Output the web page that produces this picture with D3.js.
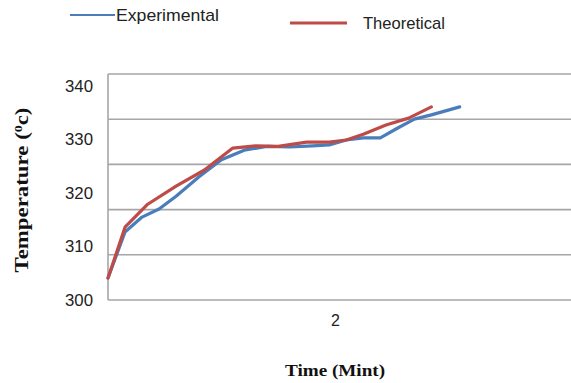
<!DOCTYPE html>
<html>
<head>
<meta charset="utf-8">
<script src="https://cdn.jsdelivr.net/npm/d3@7"></script>
<style>
  body { margin: 0; background: #fff; }
  svg { display: block; }
  .tick text { font-family: 'Liberation Sans', Arial, sans-serif; fill: #222; }
</style>
</head>
<body>
<div class="graphic"></div>
<script>
// values (minutes, degrees)
const seriesNames = ['Experimental', 'Theoretical'];
const expTime = [0, 0.15, 0.3, 0.45, 0.6, 0.8, 1.0, 1.2, 1.4, 1.6, 1.8, 1.95, 2.1, 2.25, 2.4, 2.55, 2.7, 2.85, 3.1];
const expTemp = [304.1, 312.7, 315.5, 317.0, 319.4, 323.0, 326.2, 328.0, 328.7, 328.6, 328.8, 329.0, 329.9, 330.3, 330.3, 332.1, 333.8, 334.6, 336.1];
const theoTime = [0, 0.15, 0.35, 0.6, 0.85, 1.1, 1.3, 1.5, 1.75, 1.95, 2.1, 2.25, 2.45, 2.65, 2.85];
const theoTemp = [304.1, 313.6, 317.9, 321.3, 324.3, 328.4, 328.8, 328.7, 329.5, 329.5, 329.9, 331.0, 332.7, 334.0, 336.1];
const yTicks = [300, 310, 320, 330, 340];
const xTicks = [2];
const gridLevels = [0, 1, 2, 3, 4, 5];

const width = 571, height = 383;
const plotLeft = 108, plotTop = 74, plotBottom = 300;

const svg = d3.select('.graphic')
  .append('svg')
  .attr('width', width)
  .attr('height', height);

const x = d3.scaleLinear().domain([0, 4.16]).range([plotLeft, 580]);
const y = d3.scaleLinear().domain([300, 340]).range([plotBottom, 86]);
// gridlines in the picture don't sit on the labels, so they get their own scale
const grid = d3.scaleLinear().domain([0, 5]).range([plotBottom, plotTop]);

svg.selectAll('line.grid')
  .data(gridLevels)
  .enter().append('line')
  .attr('class', 'grid')
  .attr('x1', plotLeft).attr('x2', width)
  .attr('y1', d => grid(d)).attr('y2', d => grid(d))
  .style('stroke', '#a6a6a6')
  .style('stroke-width', 1.6);

svg.append('line')
  .attr('x1', plotLeft).attr('x2', plotLeft)
  .attr('y1', plotTop).attr('y2', plotBottom)
  .style('stroke', '#a6a6a6')
  .style('stroke-width', 1.6);

const yAxis = svg.append('g')
  .attr('transform', 'translate(' + plotLeft + ',0)')
  .call(d3.axisLeft(y).tickValues(yTicks).tickSize(0).tickPadding(15));
yAxis.select('.domain').remove();
yAxis.selectAll('text')
  .style('font-size', '17px')
  .attr('textLength', 28)
  .attr('lengthAdjust', 'spacingAndGlyphs');

const xAxis = svg.append('g')
  .attr('transform', 'translate(0,' + plotBottom + ')')
  .call(d3.axisBottom(x).tickValues(xTicks).tickFormat(d3.format('d')).tickSize(0).tickPadding(15));
xAxis.select('.domain').remove();
xAxis.selectAll('text').style('font-size', '16px');

const line = d3.line()
  .x(d => x(d[0]))
  .y(d => y(d[1]));

const series = [
  { name: seriesNames[0], color: '#4a7ebb', pts: expTime.map((t, i) => [t, expTemp[i]]) },
  { name: seriesNames[1], color: '#be4b48', pts: theoTime.map((t, i) => [t, theoTemp[i]]) }
];

svg.selectAll('path.series')
  .data(series)
  .enter().append('path')
  .attr('class', 'series')
  .attr('d', d => line(d.pts))
  .style('fill', 'none')
  .style('stroke', d => d.color)
  .style('stroke-width', 3.2)
  .style('stroke-linejoin', 'round')
  .style('stroke-linecap', 'round');

// legend
const legendPos = [
  { x1: 70, x2: 115, y: 15, tx: 116, tw: 103 },
  { x1: 290, x2: 347, y: 23, tx: 363, tw: 82 }
];
series.forEach((s, i) => {
  const p = legendPos[i];
  svg.append('line')
    .attr('x1', p.x1).attr('x2', p.x2)
    .attr('y1', p.y).attr('y2', p.y)
    .style('stroke', s.color)
    .style('stroke-width', i === 0 ? 2 : 3);
  svg.append('text')
    .attr('x', p.tx).attr('y', p.y + 6)
    .attr('textLength', p.tw)
    .attr('lengthAdjust', 'spacingAndGlyphs')
    .style('font-family', "'Liberation Sans', Arial, sans-serif")
    .style('font-size', '17px')
    .style('fill', '#222')
    .text(s.name);
});

// axis titles
svg.append('text')
  .attr('x', 335).attr('y', 376)
  .attr('text-anchor', 'middle')
  .attr('textLength', 100)
  .attr('lengthAdjust', 'spacingAndGlyphs')
  .style('font-family', "'Liberation Serif', 'Times New Roman', serif")
  .style('font-weight', 'bold')
  .style('font-size', '17px')
  .style('fill', '#111')
  .text('Time (Mint)');

const yTitle = svg.append('text')
  .attr('transform', 'translate(28,190) rotate(-90)')
  .attr('text-anchor', 'middle')
  .attr('textLength', 165)
  .attr('lengthAdjust', 'spacingAndGlyphs')
  .style('font-family', "'Liberation Serif', 'Times New Roman', serif")
  .style('font-weight', 'bold')
  .style('font-size', '18px')
  .style('fill', '#111');
yTitle.append('tspan').text('Temperature (');
yTitle.append('tspan').attr('baseline-shift', 'super').style('font-size', '11px').text('0');
yTitle.append('tspan').text('c)');
</script>
</body>
</html>
